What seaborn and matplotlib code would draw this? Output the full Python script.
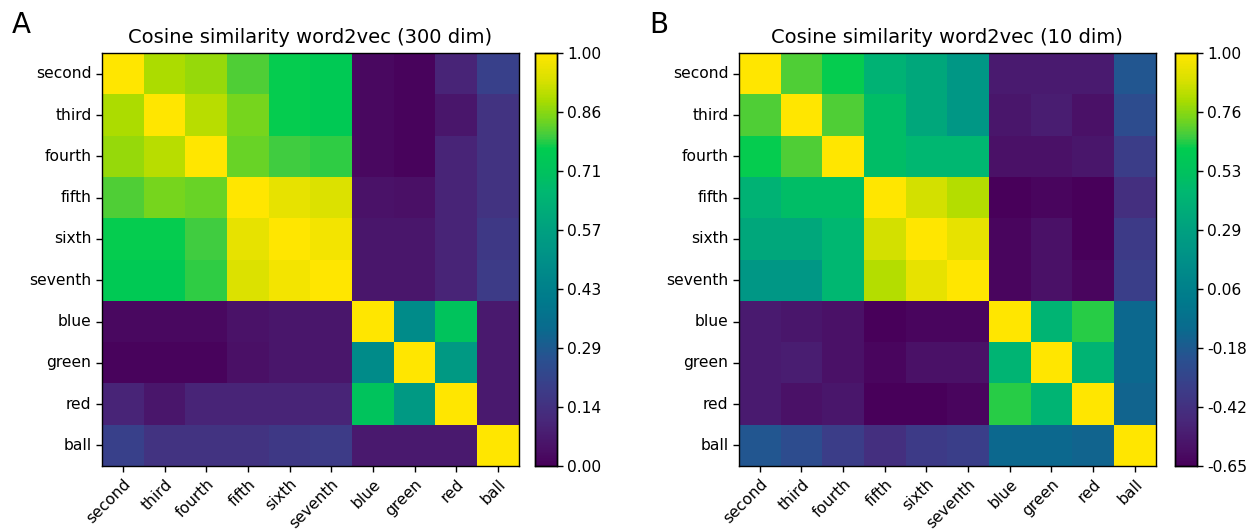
import numpy as np
import pandas as pd
import seaborn as sns
import matplotlib.pyplot as plt
from matplotlib.colors import LinearSegmentedColormap

words = ["second", "third", "fourth", "fifth", "sixth", "seventh", "blue", "green", "red", "ball"]

# cosine similarities, 300 dim model (rows in word order)
sim_300 = [
    [1.00, 0.89, 0.87, 0.81, 0.77, 0.75, 0.02, 0.01, 0.10, 0.20],
    [0.89, 1.00, 0.90, 0.84, 0.77, 0.75, 0.02, 0.01, 0.06, 0.15],
    [0.87, 0.90, 1.00, 0.83, 0.80, 0.79, 0.02, 0.01, 0.10, 0.15],
    [0.81, 0.84, 0.83, 1.00, 0.96, 0.94, 0.05, 0.04, 0.10, 0.15],
    [0.77, 0.77, 0.80, 0.96, 1.00, 0.98, 0.06, 0.06, 0.10, 0.17],
    [0.75, 0.75, 0.79, 0.94, 0.98, 1.00, 0.06, 0.06, 0.10, 0.18],
    [0.02, 0.02, 0.02, 0.05, 0.06, 0.06, 1.00, 0.48, 0.72, 0.07],
    [0.01, 0.01, 0.01, 0.04, 0.06, 0.06, 0.48, 1.00, 0.54, 0.07],
    [0.10, 0.06, 0.10, 0.10, 0.10, 0.10, 0.72, 0.54, 1.00, 0.07],
    [0.20, 0.15, 0.15, 0.15, 0.17, 0.18, 0.07, 0.07, 0.07, 1.00],
]

# cosine similarities, 10 dim model
sim_10 = [
    [1.00, 0.69, 0.62, 0.41, 0.34, 0.22, -0.53, -0.53, -0.53, -0.20],
    [0.69, 1.00, 0.69, 0.49, 0.34, 0.22, -0.55, -0.52, -0.58, -0.25],
    [0.62, 0.69, 1.00, 0.49, 0.44, 0.44, -0.58, -0.58, -0.55, -0.34],
    [0.41, 0.49, 0.49, 1.00, 0.88, 0.83, -0.652, -0.63, -0.65, -0.42],
    [0.34, 0.34, 0.44, 0.88, 1.00, 0.93, -0.63, -0.58, -0.65, -0.36],
    [0.22, 0.22, 0.44, 0.83, 0.93, 1.00, -0.63, -0.58, -0.63, -0.33],
    [-0.53, -0.55, -0.58, -0.652, -0.63, -0.63, 1.00, 0.42, 0.65, -0.11],
    [-0.53, -0.52, -0.58, -0.63, -0.58, -0.58, 0.42, 1.00, 0.42, -0.11],
    [-0.53, -0.58, -0.55, -0.65, -0.65, -0.63, 0.65, 0.42, 1.00, -0.13],
    [-0.20, -0.25, -0.34, -0.42, -0.36, -0.33, -0.11, -0.11, -0.13, 1.00],
]

# viridis-like colours as they appear in the reference colorbar (more saturated)
cmap = LinearSegmentedColormap.from_list("vir_ref", [
    (0.00, "#48005a"), (0.04, "#4a1066"), (0.11, "#48287a"), (0.184, "#3c3c88"),
    (0.257, "#2a5090"), (0.33, "#0a6a8e"), (0.40, "#007a8c"), (0.50, "#009088"),
    (0.571, "#00a080"), (0.668, "#00b870"), (0.705, "#00c060"), (0.77, "#00cc50"),
    (0.80, "#40cc40"), (0.838, "#70d420"), (0.886, "#a8dc00"), (0.935, "#d8e000"),
    (1.00, "#ffe600"),
])

panels = [
    ("A", "Cosine similarity word2vec (300 dim)", sim_300, 0.0, 1.0, 0.0813, 0.4263, 0.009),
    ("B", "Cosine similarity word2vec (10 dim)", sim_10, -0.652, 1.0, 0.5888, 0.9363, 0.517),
]

fig = plt.figure(figsize=(12.55, 5.32), dpi=100)

for letter, title, vals, vmin, vmax, ax_x, cb_x, lt_x in panels:
    df = pd.DataFrame(vals, index=words, columns=words)
    ax = fig.add_axes([ax_x, 0.124, 0.332, 0.776])
    cax = fig.add_axes([cb_x, 0.124, 0.0175, 0.776])
    sns.heatmap(df, cmap=cmap, vmin=vmin, vmax=vmax, ax=ax, cbar_ax=cax,
                cbar_kws={"ticks": np.linspace(vmin, vmax, 8), "format": "%.2f"})
    for sp in list(ax.spines.values()) + list(cax.spines.values()):
        sp.set_visible(True)
        sp.set_linewidth(1.0)
    ax.tick_params(axis="both", length=4, width=1, labelsize=11.2)
    ax.set_xticklabels(words, rotation=45, ha="right", va="top", rotation_mode="anchor")
    ax.set_yticklabels(words, rotation=0)
    cax.tick_params(length=4, width=1, labelsize=11.2)
    ax.set_title(title, fontsize=14, pad=7)
    fig.text(lt_x, 0.938, letter, fontsize=20, va="baseline")

fig.savefig("out.png", dpi=100)
